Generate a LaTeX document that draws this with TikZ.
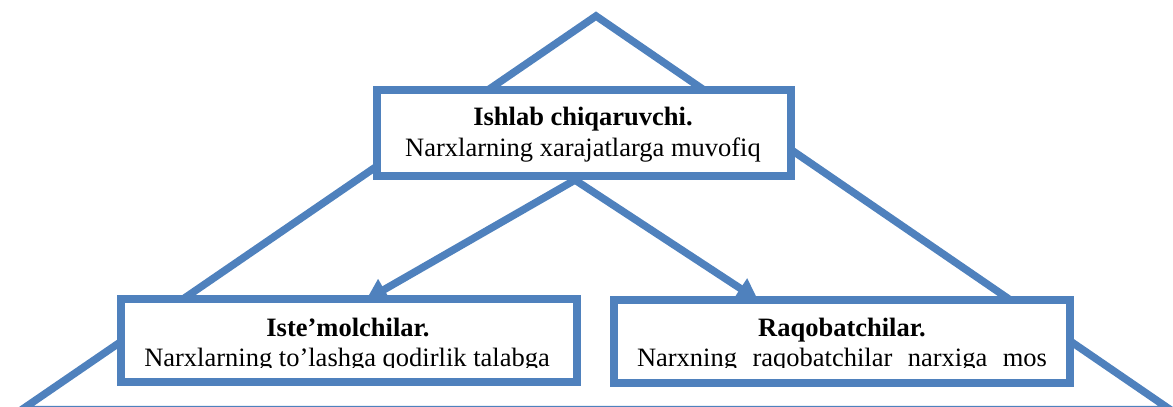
\documentclass[tikz,border=0pt]{standalone}
\usepackage{fontspec}
\setmainfont{Liberation Serif}
\usetikzlibrary{arrows.meta}
\definecolor{wordblue}{RGB}{79,129,189}
\tikzset{
  outline/.style={draw=wordblue, line width=7.5pt, line join=miter},
  framebox/.style={outline, fill=white, rectangle, inner sep=0pt,
    minimum width=#1},
  txt/.style={font=\fontsize{26.5}{31}\selectfont, inner sep=0pt, anchor=base},
  flow/.style={outline, -{Triangle[length=21pt,width=23pt]}}
}
\begin{document}
\begin{tikzpicture}[x=1pt,y=-1pt]
  \useasboundingbox (0,0) rectangle (1173,407);

  % outer triangle behind the boxes
  \coordinate (apex) at (596,16);
  \coordinate (baseL) at (22,409.5);
  \coordinate (baseR) at (1170,409.5);
  \draw[outline] (apex) -- (baseL) -- (baseR) -- cycle;

  % arrows from the producer box to the two lower boxes
  \coordinate (fork) at (575,180);
  \coordinate (tipL) at (366,300);
  \coordinate (tipR) at (758,300);
  \draw[flow] (fork) -- (tipL);
  \draw[flow] (fork) -- (tipR);

  % boxes
  \node[framebox=414pt, minimum height=86pt] (top) at (584,133) {};
  \node[framebox=456pt, minimum height=83pt] (cons) at (349,340.5) {};
  \node[framebox=456pt, minimum height=83pt] (comp) at (842,341.5) {};

  % texts
  \node[txt] (topA) at (583,125) {\bfseries Ishlab chiqaruvchi.};
  \node[txt] (topB) at (583,156) {Narxlarning xarajatlarga muvofiq};
  \node[txt] (consA) at (348,336) {\bfseries Iste’molchilar.};
  \node[txt] (compA) at (842,336) {\bfseries Raqobatchilar.};
  \begin{scope}
    \clip (100,345) rectangle (1100,367.5);
    \node[txt] (consB) at (347,366) {Narxlarning to’lashga qodirlik talabga};
    \node[txt] (compB) at (842,366) {\makebox[410pt][s]{Narxning raqobatchilar narxiga mos}};
  \end{scope}
\end{tikzpicture}
\end{document}
